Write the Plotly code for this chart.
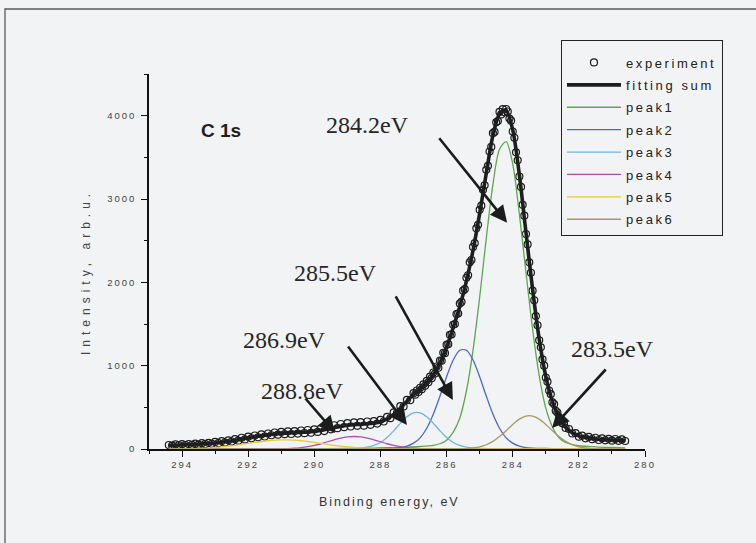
import plotly.graph_objects as go

# ---------------- data ----------------
exp_energy_1 = [294.4, 294.3, 294.2, 294.1, 294.0, 293.9, 293.8, 293.7, 293.6, 293.5,
                293.4, 293.3, 293.2, 293.1, 293.0, 292.9, 292.8, 292.7, 292.6, 292.5,
                292.4, 292.3, 292.2, 292.1, 292.0, 291.9, 291.8, 291.7, 291.6, 291.5,
                291.4, 291.3, 291.2, 291.1, 291.0, 290.9, 290.8, 290.7, 290.6, 290.5,
                290.4, 290.3, 290.2, 290.1, 290.0, 289.9, 289.8, 289.7, 289.6, 289.5,
                289.4, 289.3, 289.2, 289.1, 289.0, 288.9, 288.8, 288.7, 288.6, 288.5,
                288.4, 288.3, 288.2, 288.1, 288.0, 287.9, 287.8, 287.7, 287.6, 287.5,
                287.4, 287.3, 287.2, 287.1]
exp_counts_1 = [48, 40, 55, 45, 58, 47, 60, 50, 64, 52,
                70, 58, 74, 62, 85, 70, 95, 78, 104, 90,
                118, 100, 135, 115, 148, 128, 162, 140, 175, 150,
                186, 165, 198, 172, 205, 178, 212, 180, 215, 185,
                222, 190, 228, 195, 235, 205, 248, 215, 268, 236,
                285, 250, 300, 262, 310, 270, 320, 278, 322, 280,
                330, 290, 335, 305, 350, 330, 385, 370, 440, 435,
                515, 510, 590, 585]
exp_energy_2 = [287.00, 286.95, 286.90, 286.85, 286.80, 286.75, 286.70, 286.65, 286.60, 286.55,
                286.50, 286.45, 286.40, 286.35, 286.30, 286.25, 286.20, 286.15, 286.10, 286.05,
                286.00, 285.95, 285.90, 285.85, 285.80, 285.75, 285.70, 285.65, 285.60, 285.55,
                285.50, 285.45, 285.40, 285.35, 285.30, 285.25, 285.20, 285.15, 285.10, 285.05,
                285.00, 284.95, 284.90, 284.85, 284.80, 284.75, 284.70, 284.65, 284.60, 284.55,
                284.50, 284.45, 284.40, 284.35, 284.30, 284.25, 284.20,
                284.15, 284.10, 284.05, 284.00, 283.95, 283.90, 283.85, 283.80, 283.75, 283.70,
                283.65, 283.60, 283.55, 283.50, 283.45, 283.40, 283.35, 283.30, 283.25, 283.20,
                283.15, 283.10, 283.05, 283.00, 282.95, 282.90, 282.85, 282.80, 282.75, 282.70,
                282.65, 282.60, 282.55, 282.50, 282.45, 282.40]
exp_counts_2 = [670, 652, 702, 684, 735, 718, 776, 758, 818, 800,
                868, 850, 918, 905, 990, 975, 1062, 1058, 1155, 1150,
                1250, 1258, 1370, 1375, 1490, 1500, 1620, 1625, 1745, 1765,
                1900, 1918, 2055, 2085, 2240, 2268, 2425, 2470, 2648, 2690,
                2870, 2920, 3110, 3165, 3350, 3398, 3570, 3625, 3790, 3805,
                3920, 3935, 4045, 4015, 4078, 4040, 4080,
                4050, 3965, 3940, 3810, 3735, 3560, 3465, 3270, 3145, 2930,
                2800, 2580, 2455, 2240, 2115, 1900, 1785, 1595, 1485, 1305,
                1220, 1075, 1000, 858, 808, 702, 658, 560, 538, 458,
                438, 366, 362, 308, 302, 252]
exp_energy_3 = [282.3, 282.2, 282.1, 282.0, 281.9, 281.8, 281.7, 281.6, 281.5, 281.4,
                281.3, 281.2, 281.1, 281.0, 280.9, 280.8, 280.7, 280.6]
exp_counts_3 = [240, 186, 190, 148, 160, 128, 145, 118, 135, 108,
                128, 104, 122, 100, 120, 98, 115, 96]

fit_energy = [294.4, 294.2, 294.0, 293.8, 293.6, 293.4, 293.2, 293.0, 292.8, 292.6,
              292.4, 292.2, 292.0, 291.8, 291.6, 291.4, 291.2, 291.0, 290.8, 290.6,
              290.4, 290.2, 290.0, 289.8, 289.6, 289.4, 289.2, 289.0, 288.8, 288.6,
              288.4, 288.2, 288.0, 287.8, 287.6, 287.4, 287.2, 287.0, 286.8, 286.6,
              286.4, 286.2, 286.0, 285.8, 285.6, 285.4, 285.2, 285.0, 284.8, 284.6,
              284.4, 284.2, 284.0, 283.8, 283.6, 283.4, 283.2, 283.0, 282.8, 282.6,
              282.4, 282.2, 282.0, 281.8, 281.6, 281.4, 281.2, 281.0, 280.8, 280.6]
fit_sum = [45, 47, 50, 53, 56, 61, 66, 73, 82, 92,
           104, 118, 132, 146, 159, 170, 180, 187, 193, 196,
           200, 205, 213, 223, 240, 256, 271, 285, 292, 296,
           302, 312, 328, 360, 415, 490, 574, 654, 717, 796,
           892, 1033, 1221, 1458, 1712, 2018, 2385, 2828, 3310, 3760,
           4020, 4060, 3830, 3290, 2600, 1920, 1320, 870, 570, 375,
           260, 195, 157, 137, 125, 116, 111, 108, 106, 104]

peak1_energy = [294.4, 289.6, 289.0, 288.4, 288.0, 287.6, 287.2, 286.8, 286.4, 286.2,
                286.0, 285.8, 285.6, 285.4, 285.2, 285.0, 284.8, 284.6, 284.4, 284.2,
                284.0, 283.8, 283.6, 283.4, 283.2, 283.0, 282.8, 282.6, 282.4, 282.2,
                282.0, 281.6, 281.2, 280.8, 280.6]
peak1_counts = [2, 5, 7, 10, 13, 17, 22, 30, 44, 63,
                106, 202, 373, 699, 1187, 1822, 2528, 3172, 3597, 3688,
                3420, 2820, 2120, 1440, 880, 490, 265, 135, 78, 52,
                39, 28, 20, 16, 14]

peak2_energy = [294.4, 289.0, 288.4, 288.0, 287.6, 287.4, 287.2, 287.0, 286.8, 286.6,
                286.4, 286.2, 286.0, 285.8, 285.6, 285.4, 285.2, 285.0, 284.8, 284.6,
                284.4, 284.2, 284.0, 283.8, 283.6, 283.4, 283.0, 282.6, 282.0, 280.6]
peak2_counts = [0, 2, 4, 6, 10, 17, 34, 70, 134, 249,
                419, 635, 867, 1068, 1185, 1185, 1068, 867, 635, 419,
                249, 134, 70, 34, 17, 10, 6, 4, 2, 1]

peak3_energy = [294.4, 289.6, 289.2, 288.8, 288.6, 288.4, 288.2, 288.0, 287.8, 287.6,
                287.4, 287.2, 287.0, 286.8, 286.6, 286.4, 286.2, 286.0, 285.8, 285.6,
                285.4, 285.2, 285.0, 284.6, 284.2, 280.6]
peak3_counts = [0, 2, 4, 8, 12, 22, 43, 78, 138, 218,
                308, 386, 434, 434, 386, 308, 218, 138, 78, 43,
                22, 12, 8, 4, 2, 0]

peak4_energy = [294.4, 291.6, 291.2, 290.8, 290.6, 290.4, 290.2, 290.0, 289.8, 289.6,
                289.4, 289.2, 289.0, 288.8, 288.6, 288.4, 288.2, 288.0, 287.8, 287.6,
                287.4, 287.2, 287.0, 286.8, 286.4, 286.0, 280.6]
peak4_counts = [0, 0, 1, 5, 9, 17, 28, 44, 63, 87,
                110, 131, 145, 150, 145, 131, 110, 87, 63, 44,
                28, 17, 9, 5, 1, 0, 0]

peak5_energy = [294.4, 294.2, 293.8, 293.6, 293.4, 293.2, 293.0, 292.8, 292.6, 292.4,
                292.2, 292.0, 291.8, 291.6, 291.4, 291.2, 291.0, 290.8, 290.6, 290.4,
                290.2, 290.0, 289.8, 289.6, 289.4, 289.2, 289.0, 288.8, 288.6, 288.4,
                288.2, 288.0, 287.6, 287.0, 280.6]
peak5_counts = [0, 1, 3, 5, 8, 12, 18, 25, 33, 43,
                55, 67, 79, 90, 99, 106, 110, 110, 106, 99,
                90, 79, 67, 55, 43, 33, 25, 18, 12, 8,
                5, 3, 1, 0, 0]

peak6_energy = [294.4, 287.0, 285.8, 285.4, 285.2, 285.0, 284.8, 284.6, 284.4, 284.2,
                284.0, 283.8, 283.6, 283.4, 283.2, 283.0, 282.8, 282.6, 282.4, 282.2,
                282.0, 281.8, 281.6, 281.2, 280.6]
peak6_counts = [0, 0, 1, 5, 12, 26, 51, 91, 149, 220,
                295, 358, 395, 395, 358, 295, 220, 149, 91, 51,
                26, 12, 5, 1, 0]

x_ticks = [294, 292, 290, 288, 286, 284, 282, 280]
y_ticks = [0, 1000, 2000, 3000, 4000]

# peak labels and arrows
labels = ["284.2eV", "285.5eV", "286.9eV", "288.8eV", "283.5eV"]
label_x = [288.38, 289.37, 290.89, 290.37, 280.97]
label_y = [3892, 2114, 1309, 697, 1201]
tip_x = [284.17, 285.81, 287.20, 289.37, 282.81]
tip_y = [2715, 589, 288, 192, 252]
tail_dx = [-69, -58, -60, -31, 55]
tail_dy = [-86, -105, -80, -36, -60]

peak_names = ["peak1", "peak2", "peak3", "peak4", "peak5", "peak6"]
peak_colors = ["#5aaa4c", "#4a68c8", "#6cb4e4", "#b04cb4", "#e4cc34", "#a89a64"]

# ---------------- figure ----------------
SANS = "Liberation Sans, Arial, sans-serif"
SERIF = "Liberation Serif, Times New Roman, serif"


def spaced(t, s):
    return '<span style="letter-spacing:%spx">%s</span>' % (s, t)


LEG_SP = 2.6

fig = go.Figure()

fig.add_trace(go.Scatter(
    x=exp_energy_1 + exp_energy_2 + exp_energy_3,
    y=exp_counts_1 + exp_counts_2 + exp_counts_3,
    mode="markers", name=spaced("experiment", LEG_SP), legendrank=1, legendgroup="g0",
    marker=dict(symbol="circle-open", size=7, color="#1c1c1c", line=dict(width=1.2)),
))
fig.add_trace(go.Scatter(
    x=fit_energy, y=fit_sum, mode="lines", name=spaced("fitting sum", LEG_SP),
    legendrank=2, legendgroup="g1",
    line=dict(color="#1e1e1e", width=3.6, shape="spline", smoothing=0.8),
))
peak_x = [peak1_energy, peak2_energy, peak3_energy, peak4_energy, peak5_energy, peak6_energy]
peak_y = [peak1_counts, peak2_counts, peak3_counts, peak4_counts, peak5_counts, peak6_counts]
for i in range(6):
    fig.add_trace(go.Scatter(
        x=peak_x[i], y=peak_y[i], mode="lines", name=spaced(peak_names[i], LEG_SP),
        legendrank=3 + i, legendgroup="g%d" % (i + 2),
        line=dict(color=peak_colors[i], width=1.3, shape="spline", smoothing=0.8),
    ))

annotations = []
for i in range(len(labels)):
    annotations.append(dict(
        x=tip_x[i], y=tip_y[i], xref="x", yref="y", text="", showarrow=True,
        ax=tail_dx[i], ay=tail_dy[i], arrowhead=2, arrowsize=1.3, arrowwidth=2.6,
        arrowcolor="#1c1c1c", standoff=0,
    ))
    annotations.append(dict(
        x=label_x[i], y=label_y[i], xref="x", yref="y", text=labels[i],
        xanchor="center", yanchor="middle",
        showarrow=False, font=dict(family=SERIF, size=24, color="#262626"),
    ))
annotations.append(dict(
    x=292.82, y=3820, xref="x", yref="y", text="<b>C 1s</b>", showarrow=False,
    xanchor="center", yanchor="middle",
    font=dict(family=SANS, size=19, color="#1e1e1e"),
))
annotations.append(dict(
    x=0.484, y=-0.141, xref="paper", yref="paper", xanchor="center", yanchor="middle",
    text=spaced("Binding energy, eV", 2), showarrow=False,
    font=dict(family=SANS, size=12.5, color="#333"),
))
annotations.append(dict(
    x=-0.127, y=0.472, xref="paper", yref="paper", textangle=-90,
    xanchor="center", yanchor="middle",
    text=spaced("Intensity, arb.u.", 5), showarrow=False,
    font=dict(family=SANS, size=12, color="#444"),
))

fig.update_layout(
    width=756, height=543,
    margin=dict(l=149, r=111, t=74, b=94),
    paper_bgcolor="#f2f3f5", plot_bgcolor="#f2f3f5",
    annotations=annotations,
    shapes=[dict(type="rect", xref="paper", yref="paper",
                 x0=-0.2903, x1=1.3, y0=-0.3, y1=1.1733,
                 line=dict(color="#5a5a5a", width=1.3), layer="below")],
    legend=dict(
        x=0.8306, y=1.0907, xanchor="left", yanchor="top",
        bgcolor="rgba(0,0,0,0)", bordercolor="#222", borderwidth=1,
        font=dict(family=SANS, size=13, color="#222"),
        tracegroupgap=2.5, itemwidth=54,
        title=dict(text=" ", font=dict(size=5)),
    ),
    xaxis=dict(
        range=[295, 280], tickmode="array", tickvals=x_ticks,
        ticktext=[spaced(str(v), 2) for v in x_ticks],
        ticks="outside", ticklen=6, tickwidth=1.2, tickcolor="#111",
        showline=True, linecolor="#111", linewidth=1.5,
        showgrid=False, zeroline=False,
        tickfont=dict(family=SANS, size=9.5, color="#444"),
        minor=dict(dtick=1, tick0=280, ticks="outside", ticklen=3, tickwidth=1.2,
                   tickcolor="#111", showgrid=False),
    ),
    yaxis=dict(
        range=[0, 4500], tickmode="array", tickvals=y_ticks,
        ticktext=[spaced(str(v), 2) for v in y_ticks],
        ticks="outside", ticklen=6, tickwidth=1.2, tickcolor="#111",
        showline=True, linecolor="#111", linewidth=1.5,
        showgrid=False, zeroline=False, ticklabelstandoff=3,
        tickfont=dict(family=SANS, size=9.5, color="#444"),
        minor=dict(dtick=500, tick0=0, ticks="outside", ticklen=3, tickwidth=1.2,
                   tickcolor="#111", showgrid=False),
    ),
)

fig.write_html("out.html")
